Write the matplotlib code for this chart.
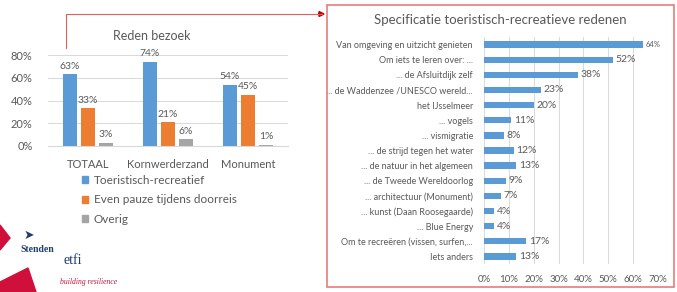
import matplotlib.pyplot as plt
import matplotlib.patches as mpatches
from matplotlib.ticker import PercentFormatter

plt.rcParams['font.family'] = ['Lato', 'DejaVu Sans']

# Left chart: reason for visit
groups = ['TOTAAL', 'Kornwerderzand', 'Monument']
series_names = ['Toeristisch-recreatief', 'Even pauze tijdens doorreis', 'Overig']
toeristisch = [63, 74, 54]
pauze = [33, 21, 45]
overig = [3, 6, 1]
left_ticks = [0, 20, 40, 60, 80]

# Right chart: specification of tourist-recreational reasons
reasons = ['Van omgeving en uitzicht genieten', 'Om iets te leren over: ...',
           '... de Afsluitdijk zelf', '... de Waddenzee /UNESCO wereld...',
           'het IJsselmeer', '... vogels', '... vismigratie',
           '... de strijd tegen het water', '... de natuur in het algemeen',
           '... de Tweede Wereldoorlog', '... architectuur (Monument)',
           '... kunst (Daan Roosegaarde)', '... Blue Energy',
           'Om te recreëren (vissen, surfen,...', 'Iets anders']
reason_values = [64, 52, 38, 23, 20, 11, 8, 12, 13, 9, 7, 4, 4, 17, 13]
right_ticks = [0, 10, 20, 30, 40, 50, 60, 70]

colors = ['#5B9BD5', '#ED7D31', '#A5A5A5']
text_col = '#595959'
W, H = 677, 292

fig = plt.figure(figsize=(W / 100, H / 100), dpi=100)


def box(x0, y0, x1, y1):
    # pixel coords (top-left origin) -> figure fraction
    return [x0 / W, 1 - y1 / H, (x1 - x0) / W, (y1 - y0) / H]


# ---- left chart
ax1 = fig.add_axes(box(48, 55, 288, 146))
xs = range(len(groups))
width = 0.18
step = 0.225
for i, (vals, c) in enumerate(zip([toeristisch, pauze, overig], colors)):
    pos = [x + (i - 1) * step for x in xs]
    ax1.bar(pos, vals, width, color=c, zorder=2)
    for p, v in zip(pos, vals):
        ax1.text(p, v + 3, '%d%%' % v, ha='center', va='bottom',
                 fontsize=7.5, color=text_col)
ax1.set_xlim(-0.5, 2.5)
ax1.set_ylim(0, 80)
ax1.set_yticks(left_ticks)
ax1.yaxis.set_major_formatter(PercentFormatter(decimals=0))
ax1.set_xticks(list(xs))
ax1.set_xticklabels(groups)
ax1.tick_params(length=0, labelsize=8, labelcolor=text_col)
ax1.tick_params(axis='x', pad=9)
ax1.tick_params(axis='y', pad=11)
ax1.grid(axis='y', color='#D9D9D9', lw=0.7, zorder=0)
for s in ['top', 'right', 'left']:
    ax1.spines[s].set_visible(False)
ax1.spines['bottom'].set_color('#D9D9D9')
fig.text(152 / W, 1 - 36 / H, 'Reden bezoek', ha='center', va='center',
         fontsize=9, color=text_col)

handles = [mpatches.Patch(color=c) for c in colors]
fig.legend(handles, series_names, loc='upper left',
           bbox_to_anchor=(82 / W, 1 - 175 / H), frameon=False,
           fontsize=8.5, labelcolor=text_col, handlelength=0.55,
           handleheight=0.55, handletextpad=0.45, labelspacing=0.7,
           borderpad=0, borderaxespad=0)

# ---- right chart
ax2 = fig.add_axes(box(484, 37, 658, 264))
ys = range(len(reasons))
ax2.barh(list(ys), reason_values, height=0.42, color=colors[0], zorder=2)
for y, v in zip(ys, reason_values):
    ax2.text(v + 1, y, '%d%%' % v, va='center', ha='left',
             fontsize=5.5 if y == 0 else 7.5, color=text_col)
ax2.set_ylim(len(reasons) - 0.5, -0.5)
ax2.set_xlim(0, 70)
ax2.set_xticks(right_ticks)
ax2.xaxis.set_major_formatter(PercentFormatter(decimals=0))
ax2.set_yticks(list(ys))
ax2.set_yticklabels(reasons)
ax2.tick_params(length=0, labelsize=6.5, labelcolor=text_col)
ax2.tick_params(axis='y', pad=8)
ax2.tick_params(axis='x', pad=8, labelsize=7)
ax2.grid(axis='x', color='#D9D9D9', lw=0.7, zorder=0)
for s in ax2.spines.values():
    s.set_visible(False)
fig.text(500 / W, 1 - 20 / H, 'Specificatie toeristisch-recreatieve redenen',
         ha='center', va='center', fontsize=9.5, color=text_col)

# red frame and connector
fig.patches.append(mpatches.Rectangle((327 / W, 1 - 287 / H), 347 / W, 282 / H,
                                      transform=fig.transFigure, fill=False,
                                      ec='#E87C7C', lw=1.2))
fig.lines.append(plt.Line2D([66 / W, 66 / W, 322 / W],
                            [1 - 48 / H, 1 - 14 / H, 1 - 14 / H],
                            transform=fig.transFigure, color='#E06060', lw=0.8))
fig.patches.append(mpatches.FancyArrow(318 / W, 1 - 14 / H, 6 / W, 0,
                                       transform=fig.transFigure, width=0,
                                       head_width=5 / H, head_length=5 / W,
                                       color='#C00000', length_includes_head=True))

# logos (approximate)
fig.patches.append(mpatches.Polygon([(0, 1 - 225 / H), (10 / W, 1 - 238 / H), (0, 1 - 250 / H)],
                                    transform=fig.transFigure, color='#D0103A'))
fig.patches.append(mpatches.Polygon([(0, 1 - 282 / H), (28 / W, 1 - 268 / H), (36 / W, 0), (0, 0)],
                                    transform=fig.transFigure, color='#D0103A'))
fig.text(20 / W, 1 - 250 / H, 'Stenden', fontsize=7, weight='bold',
         family='Liberation Serif', color='#1F3B73', va='center')
fig.text(24 / W, 1 - 235 / H, '\u27a4', fontsize=9, family='DejaVu Sans',
         color='#1F3B73', va='center')
fig.text(64 / W, 1 - 261 / H, 'etfi', fontsize=10, family='Liberation Serif',
         color='#1F3B73', va='center')
fig.text(60 / W, 1 - 282 / H, 'building resilience', fontsize=5.5,
         style='italic', family='Liberation Serif', color='#C0143C', va='center')

fig.savefig('out.png', dpi=100)
